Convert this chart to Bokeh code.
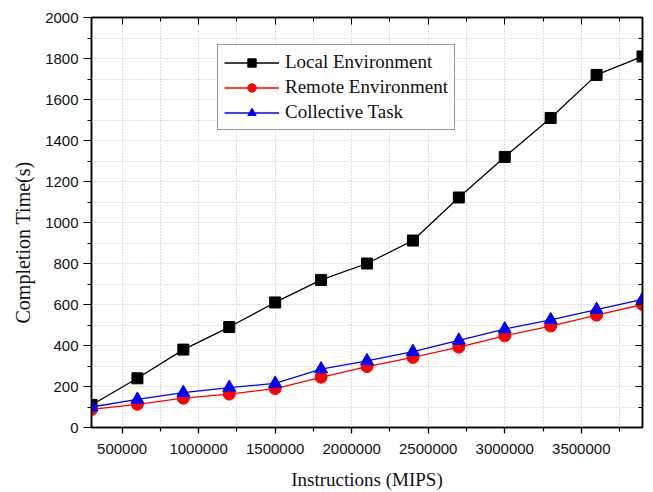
import numpy as np
from bokeh.plotting import figure
from bokeh.models import (Range1d, SingleIntervalTicker, LinearAxis, CustomJSTickFormatter,
                          BasicTickFormatter, Legend, Title)
from bokeh.embed import file_html
from bokeh.resources import INLINE

instructions = [300000, 600000, 900000, 1200000, 1500000, 1800000, 2100000,
                2400000, 2700000, 3000000, 3300000, 3600000, 3900000]
local_env = [110, 240, 380, 490, 610, 720, 800, 912, 1122, 1320, 1510, 1720, 1810]
remote_env = [88, 113, 143, 163, 190, 245, 297, 342, 392, 447, 495, 548, 600]
collective = [100, 137, 170, 195, 215, 285, 325, 370, 425, 480, 525, 575, 625]

series_names = ["Local Environment", "Remote Environment", "Collective Task"]
x_title = "Instructions (MIPS)"
y_title = "Completion Time(s)"

SERIF = "Liberation Serif"
SANS = "Liberation Sans"

p = figure(width=653, height=492, output_backend="svg", toolbar_location=None,
           x_range=Range1d(300000, 3900000), y_range=Range1d(0, 2000),
           min_border_left=91, min_border_right=11, min_border_top=17, min_border_bottom=65,
           x_axis_label=x_title)
p.outline_line_color = "black"
p.outline_line_width = 1.5
p.background_fill_color = "white"

xt = SingleIntervalTicker(interval=500000, num_minor_ticks=2)
yt = SingleIntervalTicker(interval=200, num_minor_ticks=2)

for ax, t in ((p.xaxis[0], xt), (p.yaxis[0], yt)):
    ax.ticker = t
    ax.formatter = BasicTickFormatter(use_scientific=False)
    ax.axis_line_color = "black"
    ax.axis_line_width = 1.5
    ax.major_tick_line_color = "black"
    ax.minor_tick_line_color = "black"
    ax.major_tick_line_width = 1.2
    ax.minor_tick_line_width = 1.2
    ax.major_tick_in = 0
    ax.minor_tick_in = 0
    ax.major_label_text_font = SANS
    ax.major_label_text_font_size = "15px"
    ax.major_label_text_color = "#111111"
    ax.axis_label_text_font = SERIF
    ax.axis_label_text_font_size = "19px"
    ax.axis_label_text_font_style = "normal"
    ax.axis_label_text_color = "#111111"

p.xaxis[0].major_tick_out = 6
p.xaxis[0].minor_tick_out = 4
p.xaxis[0].major_label_standoff = 10
p.xaxis[0].axis_label_standoff = 12
p.yaxis[0].major_tick_out = 8
p.yaxis[0].minor_tick_out = 4
p.yaxis[0].major_label_standoff = 5

blank = CustomJSTickFormatter(code="return ''")
top = LinearAxis(ticker=SingleIntervalTicker(interval=500000, num_minor_ticks=2), formatter=blank,
                 major_tick_in=7, major_tick_out=0, minor_tick_in=4, minor_tick_out=0,
                 major_label_standoff=0,
                 major_label_text_font_size="0px", axis_line_color="black", axis_line_width=1.5)
right = LinearAxis(ticker=SingleIntervalTicker(interval=200, num_minor_ticks=2), formatter=blank,
                   major_tick_in=7, major_tick_out=0, minor_tick_in=4, minor_tick_out=0,
                   major_label_standoff=0,
                   major_label_text_font_size="0px", axis_line_color="black", axis_line_width=1.5)
p.add_layout(top, "above")
p.add_layout(right, "right")

ytitle = Title(text=y_title, align="left", offset=104, vertical_align="middle",
               standoff=15, text_font=SERIF, text_font_size="20px",
               text_font_style="normal", text_color="#111111")
p.add_layout(ytitle, "left")

for g in (p.xgrid[0], p.ygrid[0]):
    g.grid_line_color = None
    g.minor_grid_line_color = "#bdbdbd"
    g.minor_grid_line_dash = "1 2"
    g.minor_grid_line_width = 1

r1l = p.line(instructions, local_env, color="black", line_width=1.3)
r1m = p.scatter(instructions, local_env, marker="square", size=11, color="black")
r2l = p.line(instructions, remote_env, color="red", line_width=1.3)
r2m = p.scatter(instructions, remote_env, marker="circle", size=12, color="red")
r3l = p.line(instructions, collective, color="blue", line_width=1.3)
r3m = p.scatter(instructions, collective, marker="triangle", size=13, color="blue")

legend = Legend(items=[(series_names[0], [r1l, r1m]),
                       (series_names[1], [r2l, r2m]),
                       (series_names[2], [r3l, r3m])],
                location=(126, 297))
legend.padding = 6
legend.spacing = 3
legend.margin = 0
legend.label_height = 21
legend.glyph_height = 21
legend.glyph_width = 55
legend.label_standoff = 6
legend.label_text_font = SERIF
legend.label_text_font_size = "19px"
legend.label_text_color = "#111111"
legend.border_line_color = "#333333"
legend.border_line_width = 1.5
legend.background_fill_alpha = 1
p.add_layout(legend, "center")

open("out.html", "w").write(file_html(p, INLINE))
